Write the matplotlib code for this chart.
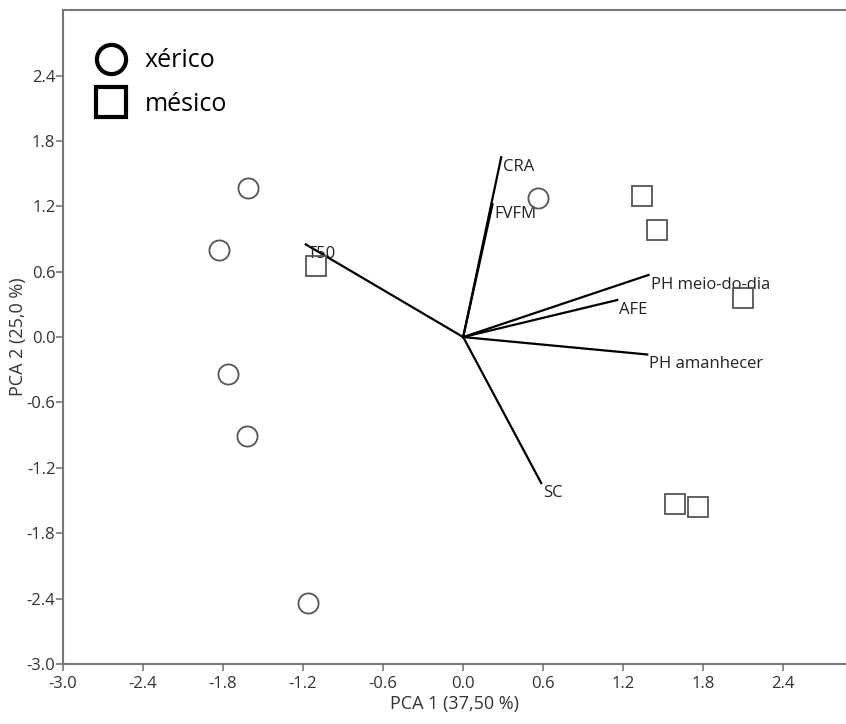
import matplotlib.pyplot as plt
from matplotlib.lines import Line2D

plt.rcParams['font.family'] = ['Open Sans', 'DejaVu Sans']

# scores
xerico_x = [-1.61, -1.83, -1.76, -1.62, -1.16, 0.56]
xerico_y = [1.37, 0.80, -0.34, -0.91, -2.44, 1.28]
mesico_x = [-1.10, 1.34, 1.45, 2.10, 1.59, 1.76]
mesico_y = [0.65, 1.29, 0.98, 0.36, -1.53, -1.56]

# loadings
var_names = ['CRA', 'FVFM', 'T50', 'PH meio-do-dia', 'AFE', 'PH amanhecer', 'SC']
load_x = [0.285, 0.22, -1.18, 1.39, 1.155, 1.38, 0.585]
load_y = [1.65, 1.22, 0.85, 0.57, 0.34, -0.16, -1.34]

ticks = [-3.0, -2.4, -1.8, -1.2, -0.6, 0.0, 0.6, 1.2, 1.8, 2.4]

fig = plt.figure(figsize=(8.46, 7.24), dpi=100)
ax = fig.add_axes([0.0745, 0.0829, 0.9255, 0.9031])

for vx, vy, name in zip(load_x, load_y, var_names):
    ax.plot([0, vx], [0, vy], color='black', linewidth=1.6, zorder=2)
    ax.annotate(name, (vx, vy), xytext=(2, -10), textcoords='offset pixels',
                ha='left', va='center', fontsize=12, color='#222222')

ax.plot(xerico_x, xerico_y, 'o', markersize=14.5, markerfacecolor='none',
        markeredgecolor='#555555', markeredgewidth=1.3, zorder=3)
ax.plot(mesico_x, mesico_y, 's', markersize=14.5, markerfacecolor='none',
        markeredgecolor='#555555', markeredgewidth=1.3, zorder=3)

ax.set_xlim(-3.0, 2.87)
ax.set_ylim(-3.0, 3.0)
ax.set_xticks(ticks)
ax.set_yticks(ticks)
ax.set_xticklabels([f'{t:.1f}' for t in ticks])
ax.set_yticklabels([f'{t:.1f}' for t in ticks])
ax.tick_params(direction='out', length=5, width=1.2, color='#777777',
               labelsize=12, labelcolor='#333333')
ax.tick_params(axis='x', pad=4)
ax.tick_params(axis='y', pad=0.5)

for side in ['left', 'bottom', 'top']:
    ax.spines[side].set_color('#777777')
    ax.spines[side].set_linewidth(1.5)
ax.spines['right'].set_visible(False)

ax.set_xlabel('PCA 1 (37,50 %)', fontsize=13, color='#333333', labelpad=2)
ax.set_ylabel('PCA 2 (25,0 %)', fontsize=13, color='#333333', labelpad=0)

handles = [
    Line2D([], [], marker='o', linestyle='none', markersize=21,
           markerfacecolor='none', markeredgecolor='black', markeredgewidth=3),
    Line2D([], [], marker='s', linestyle='none', markersize=21,
           markerfacecolor='none', markeredgecolor='black', markeredgewidth=3),
]
ax.legend(handles, ['xérico', 'mésico'], loc='center left', frameon=False,
          fontsize=18, bbox_to_anchor=(0.042, 0.889), borderpad=0,
          borderaxespad=0, handlelength=1.2, handletextpad=0.75,
          labelspacing=0.75)

fig.savefig('out.png', dpi=100)
